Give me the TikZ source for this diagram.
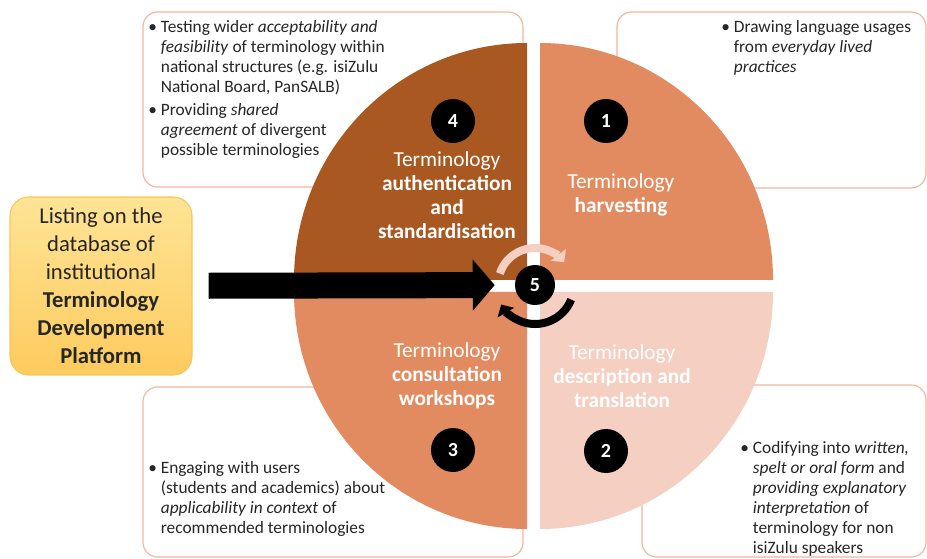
\documentclass[tikz,border=0pt]{standalone}
\usepackage{fontspec}
\setmainfont{Carlito}
\usetikzlibrary{positioning, shapes, arrows.meta, calc}
\definecolor{darkq}{RGB}{170,88,34}
\definecolor{midq}{RGB}{227,139,96}
\definecolor{paleq}{RGB}{245,207,193}
\definecolor{boxline}{RGB}{244,182,156}
\definecolor{goldtop}{RGB}{255,228,150}
\definecolor{goldbot}{RGB}{253,203,94}
\definecolor{goldline}{RGB}{247,198,90}
\definecolor{bodytext}{RGB}{38,38,38}

\begin{document}
\begin{tikzpicture}[x=0.75pt, y=0.75pt,
  infobox/.style={draw=boxline, line width=0.9pt, rounded corners=11pt, fill=white},
  listbox/.style={draw=goldline, line width=0.8pt, rounded corners=14pt, top color=goldtop, bottom color=goldbot,
    minimum width=136.5pt, minimum height=133.5pt, align=center, text=bodytext, font=\fontsize{17}{21}\selectfont},
  numdot/.style={circle, fill=black, minimum size=33pt, inner sep=0pt, text=white, font=\fontsize{15}{17}\selectfont\bfseries},
  stage/.style={align=center, text=white, font=\fontsize{16}{18}\selectfont},
  notes/.style={anchor=base west, inner sep=0pt, text=bodytext, font=\fontsize{13}{15}\selectfont},
  cyclearrow/.style={line width=6pt, -{Triangle[length=7pt, width=14pt]}},
  bigarrow/.style={line width=19.5pt, -{Triangle[length=16.5pt, width=37.5pt]}, shorten <=12pt, shorten >=15pt}]
  \useasboundingbox (0,0) rectangle (927,-559);

  \draw[infobox] (143,-12) rectangle (523,-187);
  \draw[infobox] (617,-12) rectangle (926,-188);
  \draw[infobox] (143,-387) rectangle (523,-557);
  \draw[infobox] (642,-385) rectangle (926,-557);

  \fill[darkq] (527,-280) -- ++(-233,0) arc[start angle=180, end angle=90, x radius=233, y radius=237] -- cycle;
  \fill[midq] (540,-280) -- ++(0,237) arc[start angle=90, end angle=0, x radius=233, y radius=237] -- cycle;
  \fill[paleq] (540,-292) -- ++(233,0) arc[start angle=0, end angle=-90, x radius=233, y radius=237] -- cycle;
  \fill[midq] (527,-292) -- ++(0,-237) arc[start angle=270, end angle=180, x radius=233, y radius=237] -- cycle;

  \node[stage] (authentication) at (447,-195) {Terminology\\\textbf{authentication}\\\textbf{and}\\\textbf{standardisation}};
  \node[stage] (harvesting) at (621,-195) {Terminology\\\textbf{harvesting}};
  \node[stage] (consultation) at (447,-376) {Terminology\\\textbf{consultation}\\\textbf{workshops}};
  \node[stage] (description) at (622,-376) {Terminology\\\textbf{description and}\\\textbf{translation}};

  \node[numdot] (n4) at (453,-121) {4};
  \node[numdot] (n1) at (606,-121) {1};
  \node[numdot] (n3) at (453,-450) {3};
  \node[numdot] (n2) at (606,-451) {2};
  \node[numdot, minimum size=30pt] (n5) at (535,-285) {5};

  \node[notes] (authnote) at (148,-33) {\begin{tabular}[t]{@{}l@{\hspace{3pt}}l@{}}
    \textbullet & Testing wider \textit{acceptability and}\\
    & \textit{feasibility} of terminology within\\
    & national structures (e.g. isiZulu\\
    & National Board, PanSALB)\\[2pt]
    \textbullet & Providing \textit{shared}\\
    & \textit{agreement} of divergent\\
    & possible terminologies
  \end{tabular}};
  \node[notes] (harvestnote) at (721,-33) {\begin{tabular}[t]{@{}l@{\hspace{3pt}}l@{}}
    \textbullet & Drawing language usages\\
    & from \textit{everyday lived}\\
    & \textit{practices}
  \end{tabular}};
  \node[notes] (consultnote) at (148,-473) {\begin{tabular}[t]{@{}l@{\hspace{3pt}}l@{}}
    \textbullet & Engaging with users\\
    & (students and academics) about\\
    & \textit{applicability in context} of\\
    & recommended terminologies
  \end{tabular}};
  \node[notes] (descnote) at (740,-453) {\begin{tabular}[t]{@{}l@{\hspace{3pt}}l@{}}
    \textbullet & Codifying into \textit{written,}\\
    & \textit{spelt or oral form} and\\
    & \textit{providing explanatory}\\
    & \textit{interpretation} of\\
    & terminology for non\\
    & isiZulu speakers
  \end{tabular}};

  \node[listbox] (listing) at (101,-286) {Listing on the\\database of\\institutional\\\textbf{Terminology}\\\textbf{Development}\\\textbf{Platform}};

  \draw[cyclearrow, draw=paleq] ([shift={(162:37)}]n5.center) arc[start angle=162, end angle=38, radius=37];
  \draw[cyclearrow, draw=black] ([shift={(-22:39)}]n5.center) arc[start angle=-22, end angle=-150, radius=39];
  \draw[bigarrow] (listing) -- (n5);
\end{tikzpicture}
\end{document}
